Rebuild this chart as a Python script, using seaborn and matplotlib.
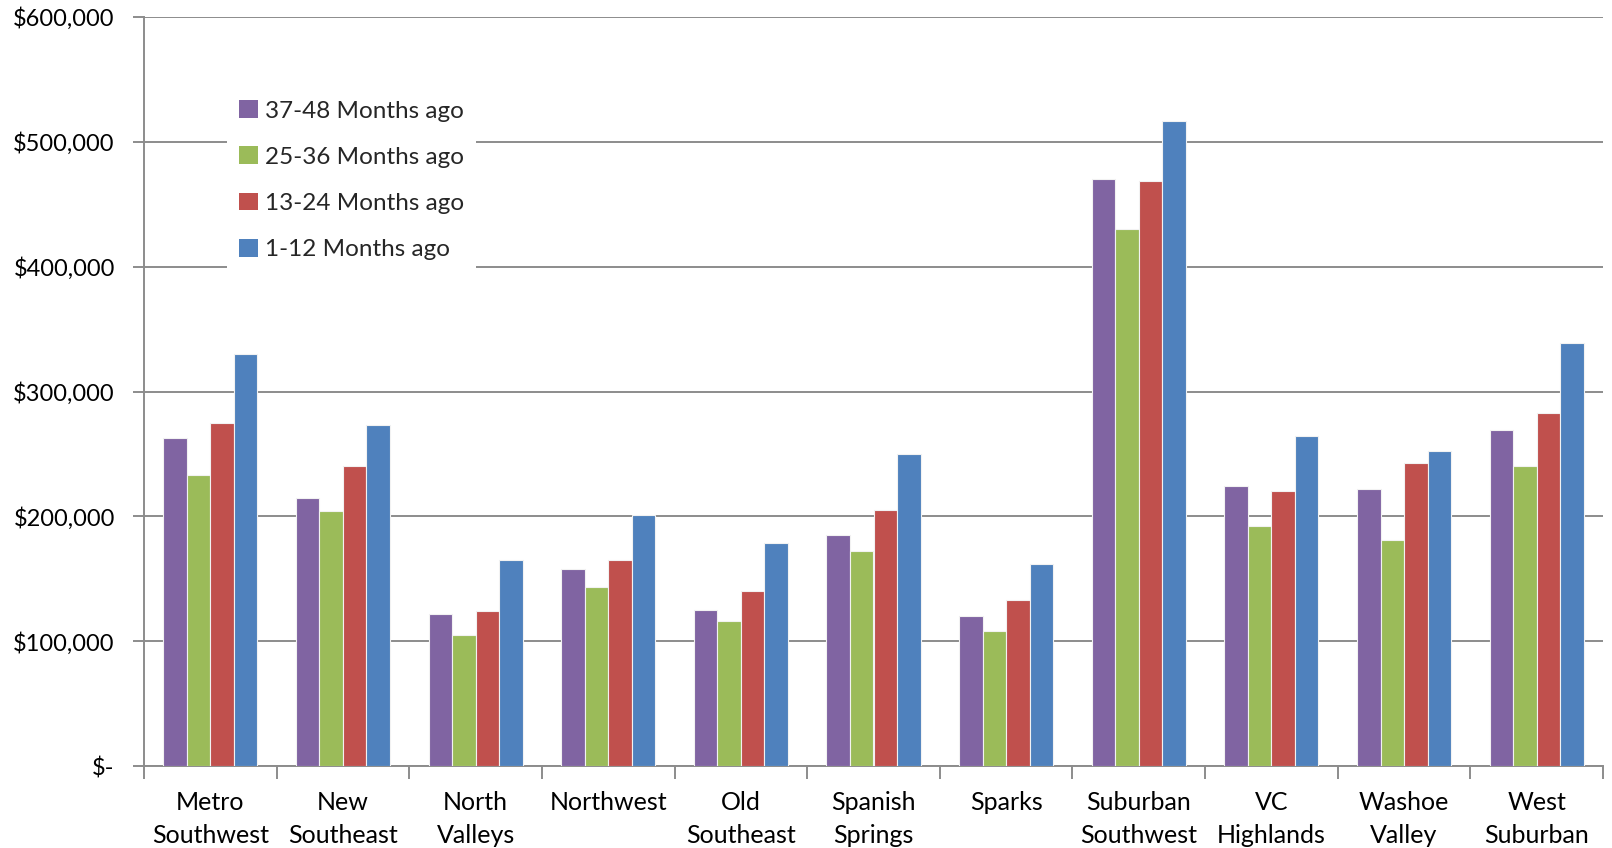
import matplotlib
matplotlib.use("Agg")
import matplotlib.pyplot as plt
import matplotlib.ticker as mticker
import numpy as np
import pandas as pd
import seaborn as sns

# Median sale price by area, per 12-month period
areas = ["Metro\nSouthwest", "New\nSoutheast", "North\nValleys", "Northwest",
         "Old\nSoutheast", "Spanish\nSprings", "Sparks", "Suburban\nSouthwest",
         "VC\nHighlands", "Washoe\nValley", "West\nSuburban"]
periods = ["37-48 Months ago", "25-36 Months ago", "13-24 Months ago", "1-12 Months ago"]

months_37_48 = [263000, 215000, 122000, 158000, 125000, 185000, 120000, 470000, 224000, 222000, 269000]
months_25_36 = [233000, 204000, 105000, 143000, 116000, 172000, 108000, 430000, 192000, 181000, 240000]
months_13_24 = [275000, 240000, 124000, 165000, 140000, 205000, 133000, 469000, 220000, 243000, 283000]
months_1_12 = [330000, 273000, 165000, 201000, 179000, 250000, 162000, 517000, 264000, 252000, 339000]

colors = ["#8064A2", "#9BBB59", "#C0504D", "#4F81BD"]

series = [months_37_48, months_25_36, months_13_24, months_1_12]
df = pd.DataFrame({
    "Area": np.tile(areas, len(periods)),
    "Period": np.repeat(periods, len(areas)),
    "Price": np.concatenate(series),
})

sns.set_theme(style="white")
plt.rcParams["font.family"] = ["Lato", "DejaVu Sans"]

fig = plt.figure(figsize=(16.12, 8.48), dpi=100)
ax = fig.add_axes([144 / 1612, 1 - 766 / 848, (1603 - 144) / 1612, (766 - 17) / 848])

sns.barplot(data=df, x="Area", y="Price", hue="Period", order=areas,
            hue_order=periods, palette=colors, width=0.71, saturation=1,
            edgecolor="#f2f2f2", linewidth=0.8, errorbar=None, ax=ax, zorder=3)

ax.set_ylim(0, 600000)
ax.set_xlim(-0.5, len(areas) - 0.5)
ax.set_yticks(np.arange(0, 600001, 100000))


def money(v, pos):
    return "$-" if v == 0 else "${:,.0f}".format(v)


ax.yaxis.set_major_formatter(mticker.FuncFormatter(money))
ax.set_xlabel("")
ax.set_ylabel("")

grid_col = "#8c8c8c"
ax.yaxis.grid(True, color=grid_col, linewidth=1.4, zorder=0)
ax.xaxis.grid(False)
for side in ["top", "right"]:
    ax.spines[side].set_visible(False)
for side in ["left", "bottom"]:
    ax.spines[side].set_color(grid_col)
    ax.spines[side].set_linewidth(1.4)

# category boundaries carry the x tick marks
ax.set_xticks(np.arange(-0.5, len(areas), 1.0), minor=True)
ax.tick_params(axis="x", which="major", length=0, pad=18, labelsize=18, colors="black")
ax.tick_params(axis="x", which="minor", length=9, width=1.4, color=grid_col, bottom=True)
ax.tick_params(axis="y", which="major", length=8, width=1.4, color=grid_col,
               left=True, pad=13, labelsize=17, colors="black")
for lab in ax.get_xticklabels():
    lab.set_linespacing(1.55)

leg = ax.legend(loc="upper left", bbox_to_anchor=(0.057, 0.905), borderaxespad=0,
                frameon=True, fancybox=False, framealpha=1, edgecolor="none",
                facecolor="white", fontsize=17.5, handlelength=0.75, handleheight=0.75,
                handletextpad=0.3, labelspacing=1.02, borderpad=0.5, title=None)
for h in leg.legend_handles:
    h.set_edgecolor("none")

fig.savefig("out.png", dpi=100, facecolor="white")
